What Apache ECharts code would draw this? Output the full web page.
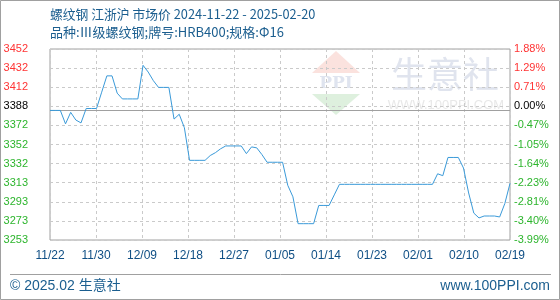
<!DOCTYPE html>
<html>
<head>
<meta charset="utf-8">
<script src="https://cdn.jsdelivr.net/npm/echarts@6/dist/echarts.min.js"></script>
<style>
html,body{margin:0;padding:0;background:#fff;}
#c{width:560px;height:300px;}
</style>
</head>
<body>
<div id="c"></div>
<script>
// Daily price, 2024-11-22 (index 0) ... 2025-02-19 (index 89)
const prices = [
  3388, 3388, 3388, 3374, 3386, 3378, 3375, 3390, 3390, 3390,
  3407, 3424, 3424, 3406, 3400, 3400, 3400, 3400, 3435, 3428,
  3419, 3412, 3412, 3412, 3379, 3384, 3370, 3336, 3336, 3336,
  3336, 3341, 3344, 3348, 3351, 3351, 3351, 3351, 3343, 3350,
  3349, 3342, 3334, 3334, 3334, 3334, 3310, 3298, 3270, 3270,
  3270, 3270, 3289, 3289, 3289, 3300, 3311, 3311, 3311, 3311,
  3311, 3311, 3311, 3311, 3311, 3311, 3311, 3311, 3311, 3311,
  3311, 3311, 3311, 3311, 3311, 3322, 3320, 3339, 3339, 3339,
  3328, 3302, 3281, 3276, 3278, 3278, 3278, 3277, 3291, 3312
];
const basePrice = 3388;
const yMin = 3253;
const yMax = 3452;
const xLabels = ['11/22','11/30','12/09','12/18','12/27','01/05','01/14','01/23','02/01','02/10','02/19'];
const leftLabels = ['3253','3273','3293','3313','3332','3352','3372','3388','3412','3432','3452'];
const rightLabels = ['-3.99%','-3.40%','-2.81%','-2.23%','-1.64%','-1.05%','-0.47%','0.00%','0.71%','1.29%','1.88%'];
const titleText = '螺纹钢 江浙沪 市场价 2024-11-22 - 2025-02-20';
const subText = '品种:Ⅲ级螺纹钢;牌号:HRB400;规格:Φ16';

const chart = echarts.init(document.getElementById('c'), null, {renderer:'canvas'});
const seriesData = prices.map((v,i)=>[i,v]);
const lastIdx = prices.length - 1;
const baseIdx = leftLabels.indexOf(String(basePrice));
const labColor = (i) => i > baseIdx ? '#ff3333' : (i === baseIdx ? '#000000' : '#2db52d');
const labFont = 'Liberation Sans, Arial, sans-serif';
const blue = '#1b5e8f';

chart.setOption({
  animation: false,
  backgroundColor: '#ffffff',
  title: [
    {text: titleText, left: 50, top: 8, padding: 0,
     textStyle: {fontSize: 12.8, fontWeight: 'normal', color: blue, fontFamily: 'Noto Sans CJK SC'}},
    {text: subText, left: 50, top: 26, padding: 0,
     textStyle: {fontSize: 13, fontWeight: 'normal', color: blue, fontFamily: 'Noto Sans CJK SC'}}
  ],
  grid: {left: 50, right: 50, top: 49, bottom: 60, show: true, borderColor: '#a0a0a0', borderWidth: 1,
         containLabel: false, outerBoundsMode: 'none'},
  xAxis: {
    type: 'value', min: 0, max: lastIdx, interval: lastIdx / 10,
    axisLine: {show: false}, axisTick: {show: false},
    splitLine: {show: true, lineStyle: {color: '#cacaca', type: [3,3], width: 1}},
    axisLabel: {margin: 10, fontSize: 12, fontFamily: labFont, color: '#0f4f85',
      formatter: (v) => xLabels[Math.round(v / (lastIdx / 10))] || ''}
  },
  yAxis: [
    {type: 'value', min: yMin, max: yMax, show: false, splitLine: {show: false}},
    {type: 'value', min: 0, max: 10, interval: 1, position: 'left',
     axisLine: {show: false}, axisTick: {show: false},
     splitLine: {show: true, lineStyle: {color: '#cacaca', type: [3,3], width: 1}},
     axisLabel: {margin: 22, fontSize: 11, fontFamily: labFont,
       color: (v) => labColor(Math.round(v)),
       formatter: (v) => leftLabels[Math.round(v)]}},
    {type: 'value', min: 0, max: 10, interval: 1, position: 'right',
     axisLine: {show: false}, axisTick: {show: false}, splitLine: {show: false},
     axisLabel: {margin: 4, fontSize: 11, fontFamily: labFont,
       color: (v) => labColor(Math.round(v)),
       formatter: (v) => rightLabels[Math.round(v)]}}
  ],
  series: [{
    type: 'line', yAxisIndex: 0, data: seriesData, showSymbol: false, symbol: 'none',
    lineStyle: {color: '#3a9ad9', width: 1}, itemStyle: {color: '#3a9ad9'},
    markLine: {silent: true, symbol: ['none','none'], label: {show: false},
      lineStyle: {color: '#a0a0a0', type: 'solid', width: 1},
      data: [{yAxis: basePrice}]},
    z: 5
  }],
  graphic: [
    {type: 'rect', z: 100, shape: {x: 0.5, y: 0.5, width: 559, height: 299},
     style: {fill: 'none', stroke: '#a0a0a0', lineWidth: 1}},
    {type: 'line', z: 100, shape: {x1: 10, y1: 274.5, x2: 551, y2: 274.5},
     style: {stroke: '#a0a0a0', lineWidth: 1}},
    {type: 'text', z: 100, x: 10, y: 286, style: {text: '© 2025.02 生意社', fill: blue,
      font: '14px "Liberation Sans", "Noto Sans CJK SC", sans-serif', textVerticalAlign: 'middle'}},
    {type: 'text', z: 100, x: 550, y: 286, style: {text: 'www.100PPI.com', fill: blue, textAlign: 'right',
      font: '14px "Liberation Sans", sans-serif', textVerticalAlign: 'middle'}},
    // watermark
    {type: 'polygon', z: -10, shape: {points: [[312,73],[336,51],[360,73]]}, style: {fill: '#fbe2de'}},
    {type: 'text', z: -10, x: 336, y: 84, style: {text: 'PPI', fill: '#dfe4ef', textAlign: 'center',
      textVerticalAlign: 'middle', font: 'bold 17px "DejaVu Serif", serif'}},
    {type: 'polygon', z: -10, shape: {points: [[312,94],[360,94],[336,115]]}, style: {fill: '#def0de'}},
    {type: 'text', z: -10, x: 445, y: 74, style: {text: '生意社', fill: '#e0e4ee', textAlign: 'center',
      textVerticalAlign: 'middle', font: '36px "Noto Sans CJK SC", sans-serif'}},
    {type: 'text', z: -10, x: 446, y: 105, style: {text: 'WWW.100PPI.COM', fill: '#e8e8e8', textAlign: 'center',
      textVerticalAlign: 'middle', font: '13px "Liberation Sans", sans-serif'}}
  ]
});
</script>
</body>
</html>
